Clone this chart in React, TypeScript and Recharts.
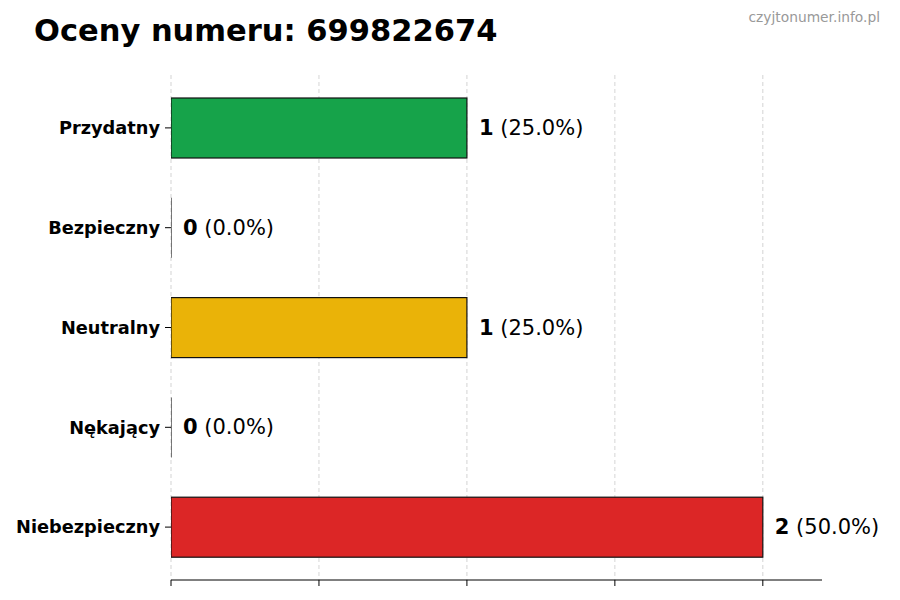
import React from 'react';
import { BarChart, Bar, XAxis, YAxis, CartesianGrid, LabelList, Cell } from 'recharts';

const categories = ['Przydatny', 'Bezpieczny', 'Neutralny', 'Nękający', 'Niebezpieczny'];
const counts = [1, 0, 1, 0, 2];
const colors = ['#16a34a', '#22c55e', '#eab308', '#f97316', '#dc2626'];
const xTicks = [0, 0.5, 1, 1.5, 2];
const xMax = 2.2;

const total = counts.reduce((a, b) => a + b, 0);
const data = categories.map((name, i) => ({ name, value: counts[i] }));

const FONT = '"DejaVu Sans", sans-serif';

const BarShape = (props: any) => {
  const { x, y, width, height, fill } = props;
  if (!width || width < 0.5) {
    return <line x1={x} x2={x} y1={y} y2={y + height} stroke="#222" strokeWidth={1.2} />;
  }
  return <rect x={x} y={y} width={width} height={height} fill={fill} stroke="#111" strokeWidth={1.2} />;
};

const ValueLabel = (props: any) => {
  const { x, y, width, height, index } = props;
  const v = counts[index];
  const pct = total ? ((v / total) * 100).toFixed(1) : '0.0';
  return (
    <text
      x={x + (width || 0) + 12}
      y={y + height / 2}
      dominantBaseline="central"
      fontFamily={FONT}
      fontSize={21}
      fill="#000"
    >
      <tspan fontWeight="bold">{v}</tspan>
      <tspan> ({pct}%)</tspan>
    </text>
  );
};

// grid lines only at the real ticks, not at the right edge of the plot
const gridX = ({ offset }: any) => xTicks.map((t) => offset.left + (t / xMax) * offset.width);

export default function App() {
  return (
    <div style={{ position: 'absolute', left: 0, top: 0, width: 900, height: 600, background: '#fff', fontFamily: FONT }}>
      <div style={{ position: 'absolute', left: 34, top: 13, fontSize: 30.5, fontWeight: 'bold', color: '#000', whiteSpace: 'nowrap' }}>
        Oceny numeru: 699822674
      </div>
      <div style={{ position: 'absolute', right: 20, top: 9, fontSize: 13.8, color: '#999', whiteSpace: 'nowrap' }}>
        czyjtonumer.info.pl
      </div>
      <BarChart
        width={900}
        height={600}
        data={data}
        layout="vertical"
        margin={{ top: 75, right: 78, bottom: 0, left: 0 }}
      >
        <XAxis
          type="number"
          domain={[0, xMax]}
          ticks={xTicks}
          allowDataOverflow
          height={20}
          tick={() => <g />}
          tickSize={6}
          stroke="#000"
          tickLine={{ stroke: '#000' }}
          axisLine={{ stroke: '#000' }}
        />
        <YAxis
          type="category"
          dataKey="name"
          width={171}
          padding={{ top: 3, bottom: 3 }}
          axisLine={false}
          tickSize={6}
          tickMargin={5}
          stroke="#000"
          tickLine={{ stroke: '#000' }}
          tick={{ fill: '#000', fontSize: 17.75, fontWeight: 'bold', fontFamily: FONT }}
        />
        <Bar dataKey="value" barSize={60} isAnimationActive={false} shape={BarShape}>
          {data.map((d, i) => (
            <Cell key={d.name} fill={colors[i]} />
          ))}
          <LabelList dataKey="value" content={ValueLabel} />
        </Bar>
        <CartesianGrid
          horizontal={false}
          verticalCoordinatesGenerator={gridX}
          stroke="#b0b0b0"
          strokeOpacity={0.55}
          strokeDasharray="4 3"
        />
      </BarChart>
    </div>
  );
}
